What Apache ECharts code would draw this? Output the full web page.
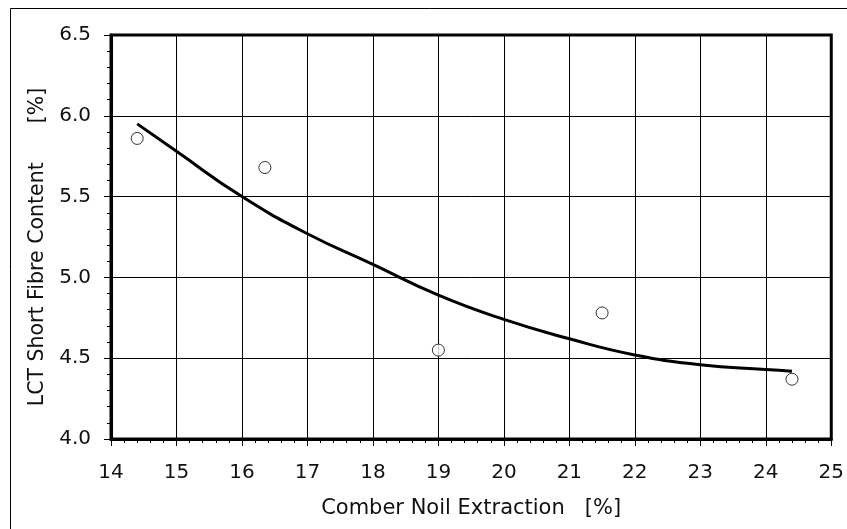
<!DOCTYPE html>
<html>
<head>
<meta charset="utf-8">
<script src="https://cdn.jsdelivr.net/npm/echarts@6/dist/echarts.min.js"></script>
<style>html,body{margin:0;padding:0;background:#fff}#c{width:847px;height:529px}</style>
</head>
<body>
<div id="c"></div>
<script>
// Measured points
const noilX = [14.4, 16.35, 19.0, 21.5, 24.4];
const sfcY = [5.86, 5.68, 4.55, 4.78, 4.37];
// Trend line
const trendX = [14.4, 15, 16, 17, 18, 19, 20, 21, 22, 23, 24, 24.4];
const trendY = [5.95, 5.78, 5.50, 5.27, 5.08, 4.89, 4.74, 4.62, 4.52, 4.46, 4.43, 4.42];
const xTitle = 'Comber Noil Extraction   [%]';
const yTitle = 'LCT Short Fibre Content      [%]';

const font = 'DejaVu Sans';
const chart = echarts.init(document.getElementById('c'));
chart.setOption({
  animation: false,
  backgroundColor: '#fff',
  graphic: [{
    type: 'rect', z: -1, silent: true,
    shape: { x: 10.5, y: 8.5, width: 1000, height: 1000 },
    style: { fill: 'none', stroke: '#000', lineWidth: 1 }
  }],
  grid: { left: 111, right: 15, top: 35, bottom: 90, show: true, borderColor: '#000', borderWidth: 3, backgroundColor: 'transparent' },
  xAxis: {
    type: 'value', min: 14, max: 25, interval: 1,
    name: xTitle, nameLocation: 'middle', nameGap: 59,
    nameTextStyle: { fontFamily: font, fontSize: 21, color: '#111' },
    axisLine: { show: true, lineStyle: { color: '#000', width: 3 } },
    axisTick: { show: true, inside: false, length: 7, lineStyle: { color: '#000', width: 1 } },
    minorTick: { show: true, splitNumber: 5, length: 4, lineStyle: { color: '#000', width: 1 } },
    splitLine: { show: true, lineStyle: { color: '#000', width: 1 } },
    axisLabel: { fontFamily: font, fontSize: 20, color: '#111', margin: 24 }
  },
  yAxis: {
    type: 'value', min: 4, max: 6.5, interval: 0.5,
    name: yTitle, nameLocation: 'middle', nameGap: 61, nameRotate: 90,
    nameTextStyle: { fontFamily: font, fontSize: 20.5, color: '#111', padding: [0, 20, 0, 0] },
    axisLine: { show: true, lineStyle: { color: '#000', width: 3 } },
    axisTick: { show: true, inside: false, length: 7, lineStyle: { color: '#000', width: 1 } },
    minorTick: { show: true, splitNumber: 5, length: 4, lineStyle: { color: '#000', width: 1 } },
    splitLine: { show: true, lineStyle: { color: '#000', width: 1 } },
    axisLabel: { fontFamily: font, fontSize: 20, color: '#111', margin: 20, formatter: v => v.toFixed(1) }
  },
  series: [{
    type: 'line', smooth: true, showSymbol: false, symbol: 'none',
    data: trendX.map((x, i) => [x, trendY[i]]),
    lineStyle: { color: '#000', width: 3 }, z: 3
  }, {
    type: 'scatter', symbol: 'circle', symbolSize: 12,
    data: noilX.map((x, i) => [x, sfcY[i]]),
    itemStyle: { color: '#fff', borderColor: '#000', borderWidth: 1 }, z: 4
  }]
});
</script>
</body>
</html>
